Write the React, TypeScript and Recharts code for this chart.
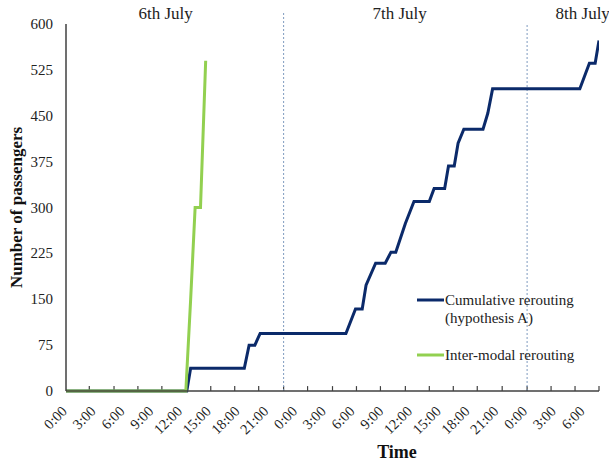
import { LineChart, Line, XAxis, YAxis, ReferenceLine, ReferenceDot, Legend } from 'recharts'

// hours counted from 0:00 on 6th July
const blueHours = [0, 12.6, 13.0, 18.6, 19.1, 19.7, 20.25, 29.2, 30.2, 30.9, 31.3, 32.3, 33.3, 33.9, 34.4, 35.4, 36.3, 37.9, 38.4, 39.5, 39.9, 40.5, 40.9, 41.5, 43.5, 44.0, 44.5, 53.6, 54.6, 55.2, 55.6]
const blueValues = [0, 0, 37, 37, 75, 75, 94, 94, 134, 134, 173, 209, 209, 227, 227, 274, 310, 310, 331, 331, 368, 368, 405, 428, 428, 454, 494, 494, 536, 536, 573]

const greenHours = [0, 12.5, 13.0, 13.47, 14.03, 14.57]
const greenValues = [0, 0, 149, 300, 300, 540]

const yTicks = [0, 75, 150, 225, 300, 375, 450, 525, 600]
const hourTicks = [0, 3, 6, 9, 12, 15, 18, 21, 24, 27, 30, 33, 36, 39, 42, 45, 48, 51, 54]
const hourLabels = ['0:00', '3:00', '6:00', '9:00', '12:00', '15:00', '18:00', '21:00', '0:00', '3:00', '6:00', '9:00', '12:00', '15:00', '18:00', '21:00', '0:00', '3:00', '6:00']
const markTicks = [2.43, 5.01, 7.5, 10.0, 12.6, 15.1, 17.6, 20.1, 22.7, 25.2, 27.8, 30.3, 32.8, 35.4, 37.9, 40.4, 42.9, 45.5, 48.1, 50.6, 53.1, 55.6]
const dayTicks = [10.4, 34.8, 53.9]
const dayLabels = ['6th July', '7th July', '8th July']

const blueData = blueHours.map((t, i) => ({ t, v: blueValues[i] }))
const greenData = greenHours.map((t, i) => ({ t, v: greenValues[i] }))

const FONT = "'Liberation Serif', serif"
const BLUE = '#0b2a6a'
const GREEN = '#92d050'
const AXIS = '#404040'

function HourTick(props: any) {
  const { x, y, index } = props
  const ax = x + 2
  const ay = y + 21
  return (
    <text
      x={ax}
      y={ay}
      textAnchor="end"
      transform={`rotate(-45 ${ax} ${ay})`}
      fontSize={14.5}
      fontFamily={FONT}
      fill="#222"
    >
      {hourLabels[index]}
    </text>
  )
}

function ValueTick(props: any) {
  const { x, y, payload } = props
  return (
    <text x={x} y={y} dy={5} textAnchor="end" fontSize={15} fontFamily={FONT} fill="#222">
      {payload.value}
    </text>
  )
}

function LegendBox(props: any) {
  const items = props.payload || []
  return (
    <svg width={190} height={75} style={{ display: 'block' }}>
      {items.map((item: any, i: number) => {
        const top = i === 0 ? 9 : 64
        const lines = String(item.value).split('\n')
        return (
          <g key={i}>
            <line x1={0} x2={27} y1={top} y2={top} stroke={item.color} strokeWidth={3} />
            {lines.map((s, j) => (
              <text key={j} x={28} y={top + 5 + j * 18} fontSize={15} fontFamily={FONT} fill="#222">
                {s}
              </text>
            ))}
          </g>
        )
      })}
    </svg>
  )
}

export default function App() {
  return (
    <div style={{ position: 'absolute', left: 0, top: 0, width: 609, height: 463, background: '#fff', fontFamily: FONT }}>
      <LineChart width={609} height={463} margin={{ top: 24, right: 10, left: 0, bottom: 0 }}>
        <XAxis
          xAxisId="main"
          dataKey="t"
          type="number"
          domain={[0, 55.6]}
          allowDataOverflow
          ticks={hourTicks}
          interval={0}
          tickLine={false}
          tickSize={0}
          tickMargin={0}
          height={72}
          stroke={AXIS}
          strokeWidth={1.5}
          tick={<HourTick />}
          label={(p: any) => {
            const vb = p.viewBox
            return (
              <text x={vb.x + 331} y={vb.y + 67} textAnchor="middle" fontSize={18} fontWeight="bold" fontFamily={FONT} fill="#111">
                Time
              </text>
            )
          }}
        />
        <YAxis
          domain={[0, 600]}
          ticks={yTicks}
          interval={0}
          width={66}
          tickLine={false}
          tickSize={8}
          tickMargin={5}
          stroke={AXIS}
          strokeWidth={1.5}
          tick={<ValueTick />}
          label={(p: any) => {
            const vb = p.viewBox
            const cx = 16
            const cy = vb.y + vb.height / 2
            return (
              <text x={cx} y={cy} transform={`rotate(-90 ${cx} ${cy})`} textAnchor="middle" dominantBaseline="central" fontSize={17} fontWeight="bold" fontFamily={FONT} fill="#111">
                Number of passengers
              </text>
            )
          }}
        />
        {markTicks.map((t) => (
          <ReferenceLine
            key={'m' + t}
            xAxisId="main"
            segment={[{ x: t, y: 0 }, { x: t, y: 8 }]}
            ifOverflow="visible"
            stroke={AXIS}
            strokeWidth={1.2}
          />
        ))}
        <ReferenceLine
          xAxisId="main"
          segment={[{ x: 22.7, y: 0 }, { x: 22.7, y: 620 }]}
          ifOverflow="visible"
          stroke="#7f9bbf"
          strokeDasharray="2 2"
          strokeWidth={1}
        />
        <ReferenceLine
          xAxisId="main"
          segment={[{ x: 48.1, y: 0 }, { x: 48.1, y: 600 }]}
          ifOverflow="visible"
          stroke="#7f9bbf"
          strokeDasharray="2 2"
          strokeWidth={1}
        />
        {dayTicks.map((t, i) => (
          <ReferenceDot
            key={'d' + i}
            xAxisId="main"
            x={t}
            y={600}
            r={0}
            ifOverflow="visible"
            fill="none"
            stroke="none"
            label={{ value: dayLabels[i], position: 'top', offset: 5, fontSize: 17, fontFamily: FONT, fill: '#222' }}
          />
        ))}
        <Legend
          layout="vertical"
          verticalAlign="middle"
          align="center"
          content={<LegendBox />}
          wrapperStyle={{ left: 417, top: 291, width: 190 }}
        />
        <Line
          xAxisId="main"
          data={blueData}
          dataKey="v"
          name={'Cumulative rerouting\n(hypothesis A)'}
          type="linear"
          stroke={BLUE}
          strokeWidth={3}
          dot={false}
          isAnimationActive={false}
        />
        <Line
          xAxisId="main"
          data={greenData}
          dataKey="v"
          name="Inter-modal rerouting"
          type="linear"
          stroke={GREEN}
          strokeWidth={3}
          dot={false}
          isAnimationActive={false}
        />
      </LineChart>
    </div>
  )
}
